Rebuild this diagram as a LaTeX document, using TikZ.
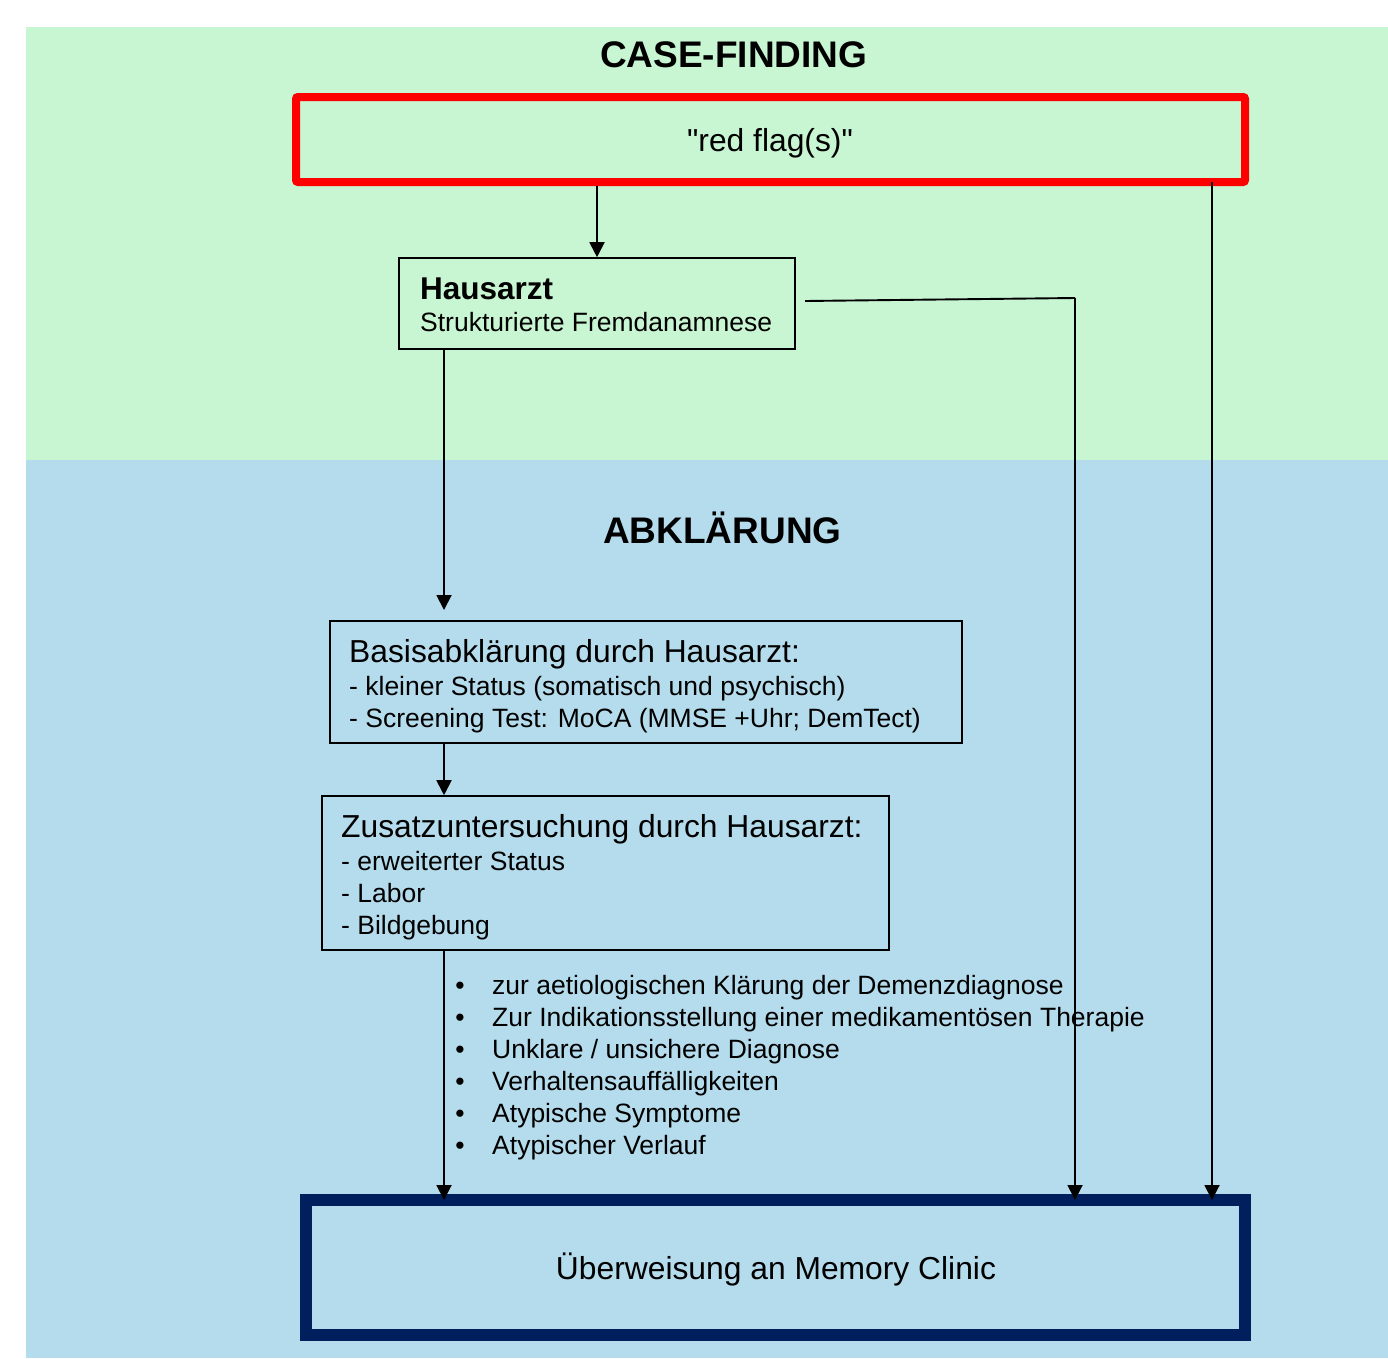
\documentclass[tikz,border=0pt]{standalone}
\usepackage{fontspec}
\setmainfont{Liberation Sans}[Ligatures=TeXOff]
\usetikzlibrary{arrows.meta}
\definecolor{bggreen}{RGB}{200,245,210}
\definecolor{bgblue}{RGB}{181,220,236}
\definecolor{navy}{RGB}{0,31,92}
\begin{document}
\begin{tikzpicture}[x=1pt,y=-1pt,
  bigtxt/.style={font=\fontsize{31.8}{38}\selectfont, inner sep=0pt},
  smalltxt/.style={font=\fontsize{26.5}{32}\selectfont, inner sep=0pt},
  headtxt/.style={font=\fontsize{37}{44}\selectfont\bfseries, inner sep=0pt},
  plainbox/.style={draw=black, line width=1.6pt, inner sep=0pt},
  conn/.style={draw=black, line width=1.9pt, -{Triangle[length=15pt,width=15pt]}},
  connline/.style={draw=black, line width=1.9pt}]
\useasboundingbox (0,0) rectangle (1388,1358);
% backgrounds
\fill[bggreen] (26,27) rectangle (1388,460);
\fill[bgblue] (26,460) rectangle (1388,1358);
% boxes
\node[draw=red, line width=8pt, rounded corners=2pt, inner sep=0pt, minimum width=949pt, minimum height=85pt] (red) at (770.5,139.5) {};
\node[plainbox, minimum width=396pt, minimum height=91pt] (haus) at (597,303.5) {};
\node[plainbox, minimum width=632pt, minimum height=122pt] (basis) at (646,682) {};
\node[plainbox, minimum width=567pt, minimum height=154pt] (zusatz) at (605.5,873) {};
\node[draw=navy, line width=12pt, inner sep=0pt, minimum width=939pt, minimum height=135pt] (mem) at (775.5,1267.5) {};
% texts
\node[headtxt, anchor=base west] (t1) at (600,67) {CASE-FINDING};
\node[bigtxt, anchor=base] (t2) at (770,151) {"red flag(s)"};
\node[bigtxt, anchor=base west, font=\fontsize{31.5}{38}\selectfont\bfseries] (t3) at (420,299) {Hausarzt};
\node[smalltxt, anchor=base west] (t4) at (420,331.5) {Strukturierte Fremdanamnese};
\node[headtxt, anchor=base west] (t5) at (603,543) {ABKLÄRUNG};
\node[bigtxt, anchor=base west] (t6) at (349,662) {Basisabklärung durch Hausarzt:};
\node[smalltxt, anchor=base west] (t7) at (349,695.5) {- kleiner Status (somatisch und psychisch)};
\node[smalltxt, anchor=base west] (t8) at (349,727.5) {- Screening Test: MoCA (MMSE +Uhr; DemTect)};
\node[bigtxt, anchor=base west] (t9) at (341,837) {Zusatzuntersuchung durch Hausarzt:};
\node[smalltxt, anchor=base west] (t10) at (341,870.5) {- erweiterter Status};
\node[smalltxt, anchor=base west] (t11) at (341,902.5) {- Labor};
\node[smalltxt, anchor=base west] (t12) at (341,934.5) {- Bildgebung};
\foreach \i/\txt in {0/{zur aetiologischen Klärung der Demenzdiagnose},
  1/{Zur Indikationsstellung einer medikamentösen Therapie},
  2/{Unklare / unsichere Diagnose},
  3/{Verhaltensauffälligkeiten},
  4/{Atypische Symptome},
  5/{Atypischer Verlauf}}{
  \node[smalltxt, anchor=base] (b\i) at (460,994.5+32*\i) {•};
  \node[smalltxt, anchor=base west] (l\i) at (492,994.5+32*\i) {\txt};
}
\node[bigtxt, anchor=base] (t13) at (776,1279) {Überweisung an Memory Clinic};
% connectors
\coordinate (hs) at (805,301);
\coordinate (hc) at (1075,298);
\coordinate (a1) at (444,610);
\draw[conn] (red.south -| haus.north) -- (haus.north);
\draw[conn] (haus.south -| a1) -- (a1);
\draw[conn] (basis.south -| a1) -- (zusatz.north -| a1);
\draw[conn] (zusatz.south -| a1) -- ([yshift=-6pt]mem.north -| a1);
\draw[connline] (hs) -- (hc);
\draw[conn] (hc) -- ([yshift=-6pt]mem.north -| hc);
\draw[conn] (1212,182) -- ([yshift=-6pt]mem.north -| 1212,0);
\end{tikzpicture}
\end{document}
